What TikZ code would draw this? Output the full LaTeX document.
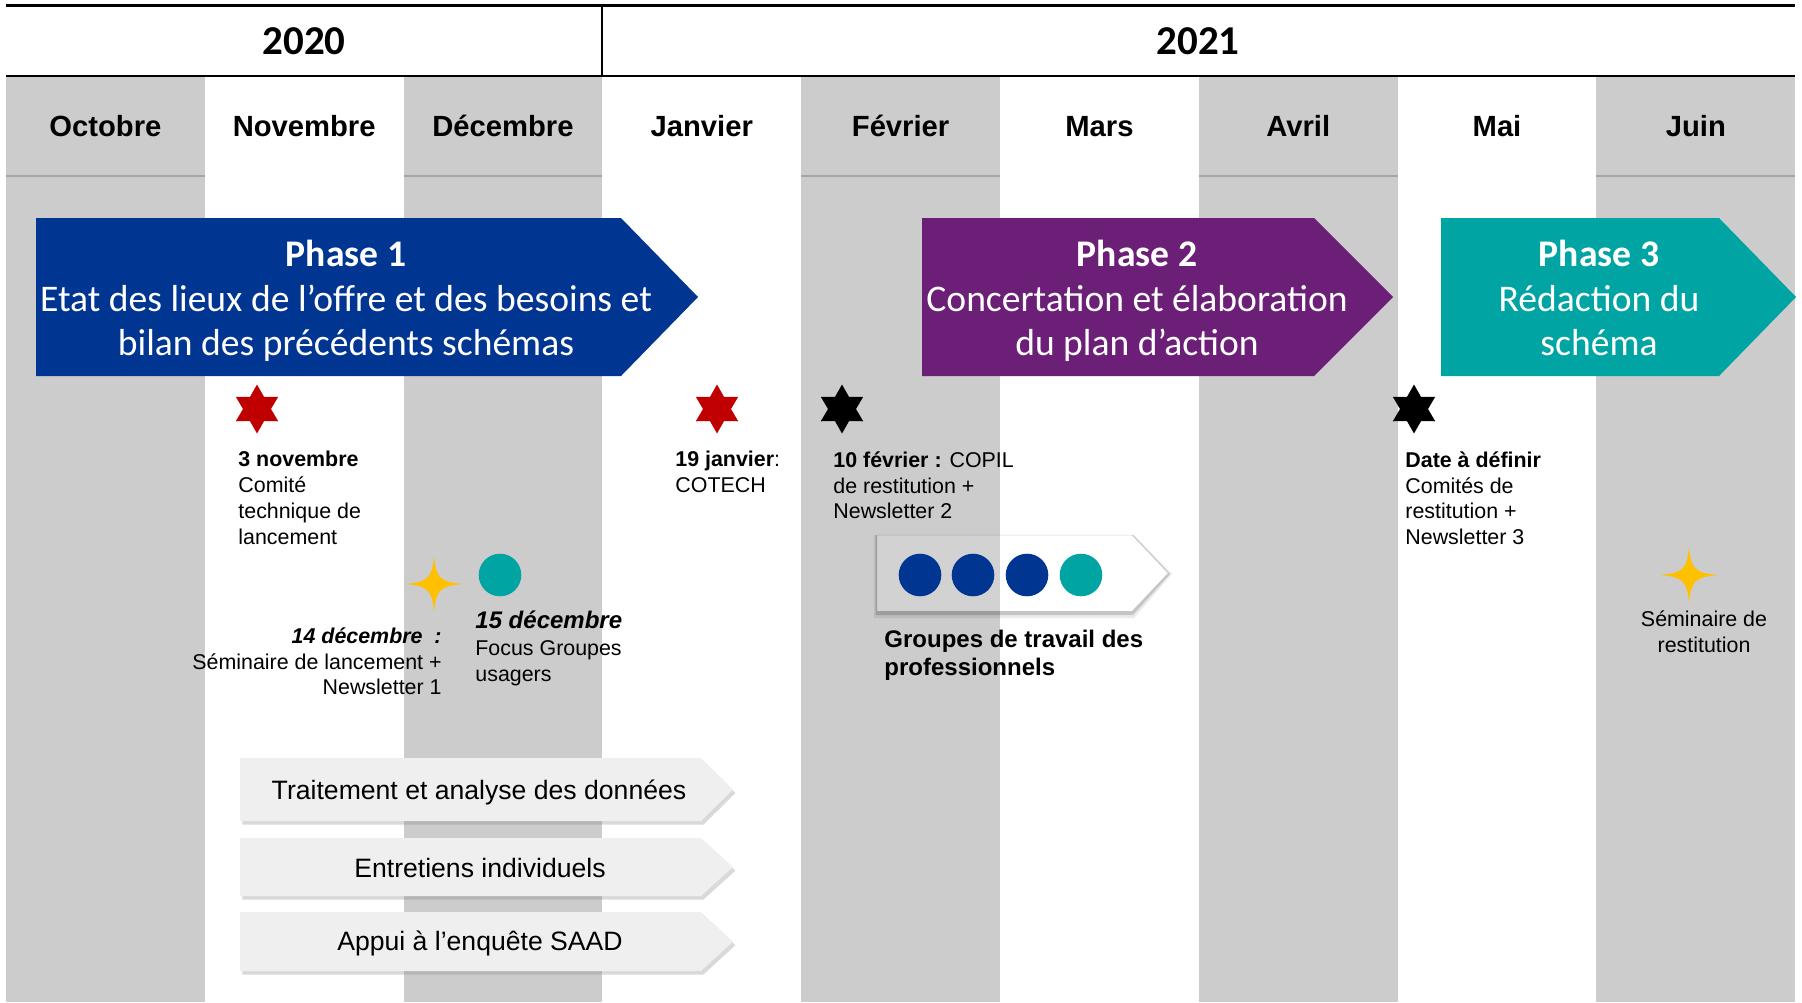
\documentclass[tikz,border=0pt]{standalone}
\usepackage{fontspec}
\setmainfont{Liberation Sans}
\newfontfamily\calibri{Carlito}
\usetikzlibrary{shadows,shapes.geometric}

\definecolor{colgray}{HTML}{CCCCCC}
\definecolor{rulegray}{HTML}{A6A6A6}
\definecolor{phaseblue}{HTML}{003591}
\definecolor{phasepurple}{HTML}{6C1F77}
\definecolor{phaseteal}{HTML}{00A5A3}
\definecolor{starred}{HTML}{C00000}
\definecolor{sparkyellow}{HTML}{FFC000}
\definecolor{boxgray}{HTML}{EFEFEF}

\tikzset{
  monthcol/.style={fill=colgray},
  monthrule/.style={draw=rulegray, line width=0.7pt},
  monthlabel/.style={font=\fontsize{14.6}{17}\selectfont\bfseries, anchor=base, inner sep=0},
  yearlabel/.style={font=\calibri\fontsize{20.5}{24}\selectfont\bfseries, anchor=base, inner sep=0},
  phasetext/.style={text=white, align=center, anchor=north, inner sep=0,
    font=\calibri\fontsize{18.8}{22.3}\selectfont},
  milestone/.style={star, star points=6, star point ratio=1.75, minimum size=24.5pt,
    inner sep=0, draw=none},
  sparkle/.pic={
    \fill[sparkyellow] (0,-28) .. controls (2,-6) and (6,-2) .. (29,0)
      .. controls (6,2) and (2,6) .. (0,28)
      .. controls (-2,6) and (-6,2) .. (-29,0)
      .. controls (-6,-2) and (-2,-6) .. cycle;
  },
  dot/.style={circle, minimum size=21.3pt, inner sep=0},
  eventtext/.style={font=\fontsize{10.7}{12.95}\selectfont, inner sep=0, align=left,
    anchor=north west},
  taskbox/.style={fill=boxgray,
    drop shadow={shadow xshift=1.2pt, shadow yshift=-1.8pt, opacity=0.3}},
  tasktext/.style={font=\fontsize{13.3}{16}\selectfont, inner sep=0, anchor=base},
}

\begin{document}
\begin{tikzpicture}[x=0.5pt,y=-0.5pt]
\useasboundingbox (0,0) rectangle (1802,1002);

% alternating month columns with the header rule
\foreach \i in {0,2,4,6,8} {
  \fill[monthcol] ({6+\i*198.8},76) rectangle ({6+(\i+1)*198.8},1002);
  \draw[monthrule] ({6+\i*198.8},176) -- ++(198.8,0);
}

% year band
\draw[line width=1.5pt] (6,5) -- (1795,5);
\draw[line width=1.2pt] (6,76) -- (1795,76);
\draw[line width=1pt] (602,5) -- (602,76);
\node[yearlabel] (y2020) at (304,54) {2020};
\node[yearlabel] (y2021) at (1198,54) {2021};

% month names
\foreach \m [count=\i from 0] in {Octobre,Novembre,Décembre,Janvier,Février,Mars,Avril,Mai,Juin}
  \node[monthlabel] (m\i) at ({6+(\i+0.5)*198.8},136) {\m};

% phase arrows
\fill[phaseblue] (36,218) -- (621,218) -- (698,297) -- (621,376) -- (36,376) -- cycle;
\fill[phasepurple] (922,218) -- (1314,218) -- (1393,297) -- (1314,376) -- (922,376) -- cycle;
\fill[phaseteal] (1441,218) -- (1719,218) -- (1796,297) -- (1719,376) -- (1441,376) -- cycle;
\node[phasetext] (p1) at (346,240) {\textbf{Phase 1}\\Etat des lieux de l’offre et des besoins et\\bilan des précédents schémas};
\node[phasetext] (p2) at (1137,240) {\textbf{Phase 2}\\Concertation et élaboration\\du plan d’action};
\node[phasetext] (p3) at (1599,240) {\textbf{Phase 3}\\Rédaction du\\schéma};

% committee milestones
\node[milestone, fill=starred] (s1) at (257,409) {};
\node[milestone, fill=starred] (s2) at (717,409) {};
\node[milestone, fill=black] (s3) at (842,409) {};
\node[milestone, fill=black] (s4) at (1414,409) {};

\node[eventtext] (ev1) at (238,451) {\textbf{3 novembre}\\Comité\\technique de\\lancement};
\node[eventtext] (ev2) at (675,451) {\textbf{19 janvier}:\\COTECH};
\node[eventtext] (ev3) at (833,451) {\textbf{10 février :} COPIL\\de restitution +\\Newsletter 2};
\node[eventtext] (ev4) at (1405,451) {\textbf{Date à définir}\\Comités de\\restitution +\\Newsletter 3};

% seminars and focus groups
\coordinate (k1) at (434,584);
\pic at (k1) {sparkle};
\node[dot, fill=phaseteal] (fg) at (500,575) {};
\node[eventtext, align=right, anchor=north east] (ev5) at (442,627)
  {\textbf{\textit{14 décembre~ :}}\\Séminaire de lancement +\\Newsletter 1};
\node[eventtext] (ev6) at (475,610)
  {{\fontsize{12}{14}\selectfont\bfseries\itshape 15 décembre}\\[1pt]Focus Groupes\\usagers};

\coordinate (k2) at (1689,575);
\pic at (k2) {sparkle};
\node[eventtext, align=center, anchor=north] (ev7) at (1704,610) {Séminaire de\\restitution};

% working groups: faint panel with a soft shadow along its lower edges
\fill[black, opacity=0.08, even odd rule]
  (874,535) -- (1134,535) -- (1172,574) -- (1134,618) -- (874,618) -- cycle
  (877,535) -- (1132,535) -- (1168,573) -- (1132,611) -- (877,611) -- cycle;
\fill[black, opacity=0.16, even odd rule]
  (875.5,535) -- (1133,535) -- (1170,574) -- (1133,615) -- (875.5,615) -- cycle
  (877,535) -- (1132,535) -- (1168,573) -- (1132,611) -- (877,611) -- cycle;
\draw[black, opacity=0.05, line width=0.6pt] (877,535) -- (1132,535) -- (1168,573);
\fill[white, fill opacity=0.12] (877,535) -- (1132,535) -- (1168,573) -- (1132,611) -- (877,611) -- cycle;
\node[dot, fill=phaseblue] (g1) at (920,575) {};
\node[dot, fill=phaseblue] (g2) at (973,575) {};
\node[dot, fill=phaseblue] (g3) at (1027,575) {};
\node[dot, fill=phaseteal] (g4) at (1081,575) {};
\node[eventtext, font=\fontsize{12}{13.8}\selectfont\bfseries] (grp) at (884,630)
  {Groupes de travail des\\professionnels};

% continuous tasks
\path[taskbox] (240,758) -- (701,758) -- (733,789.5) -- (701,821) -- (240,821) -- cycle;
\path[taskbox] (240,838) -- (701,838) -- (733,867) -- (701,896) -- (240,896) -- cycle;
\path[taskbox] (240,912) -- (701,912) -- (733,941.5) -- (701,971) -- (240,971) -- cycle;
\node[tasktext] (t1) at (479,799.5) {Traitement et analyse des données};
\node[tasktext] (t2) at (480,877.5) {Entretiens individuels};
\node[tasktext] (t3) at (480,950.5) {Appui à l’enquête SAAD};
\end{tikzpicture}
\end{document}
